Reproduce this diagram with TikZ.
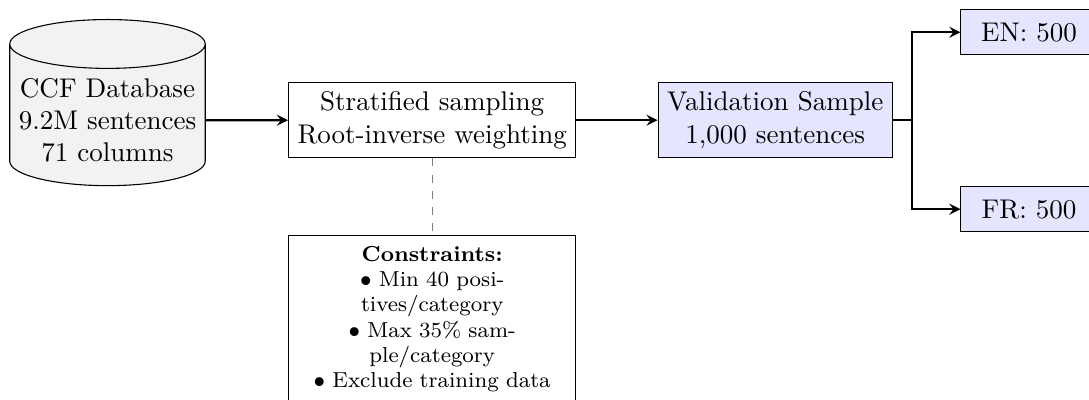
\documentclass[tikz,border=0pt]{standalone}
\usetikzlibrary{shapes.geometric}
\tikzset{
	stagebox/.style={draw, fill=white, align=center},
	samplebox/.style={draw, fill=blue!10, align=center},
	langbox/.style={samplebox, minimum width=1.77cm, minimum height=0.59cm},
	flow/.style={->, >=stealth, thick},
}
\begin{document}
\begin{tikzpicture}
	\useasboundingbox (0,0) rectangle (14.16,5.19);
	\node[draw, fill=gray!10, cylinder, shape border rotate=90, aspect=0.25, minimum width=2.535cm, minimum height=2.158cm, align=center] (ccf) at (1.398,3.627) {CCF Database\\9.2M sentences\\71 columns};
	\node[stagebox] (strat) at (5.62,3.627) {Stratified sampling\\Root-inverse weighting};
	\node[samplebox] (val) at (10.08,3.627) {Validation Sample\\1,000 sentences};
	\node[langbox] (en) at (13.38,4.771) {EN: 500};
	\node[langbox] (fr) at (13.38,2.47) {FR: 500};
	\node[draw, fill=white, anchor=north, text width=3.5cm, align=center, inner ysep=4pt, font=\fontsize{8}{9.3}\selectfont] (limits) at (5.62,2.132) {\textbf{Constraints:}\\$\bullet$ Min 40 positives/category\\$\bullet$ Max 35\% sample/category\\$\bullet$ Exclude training data};
	\coordinate (fork) at (11.856,3.627);
	\draw[flow] (ccf) -- (strat);
	\draw[flow] (strat) -- (val);
	\draw[flow] (val) -- (fork) |- (en);
	\draw[flow] (val) -- (fork) |- (fr);
	\draw[dashed, gray] (strat) -- (limits);
\end{tikzpicture}
\end{document}
